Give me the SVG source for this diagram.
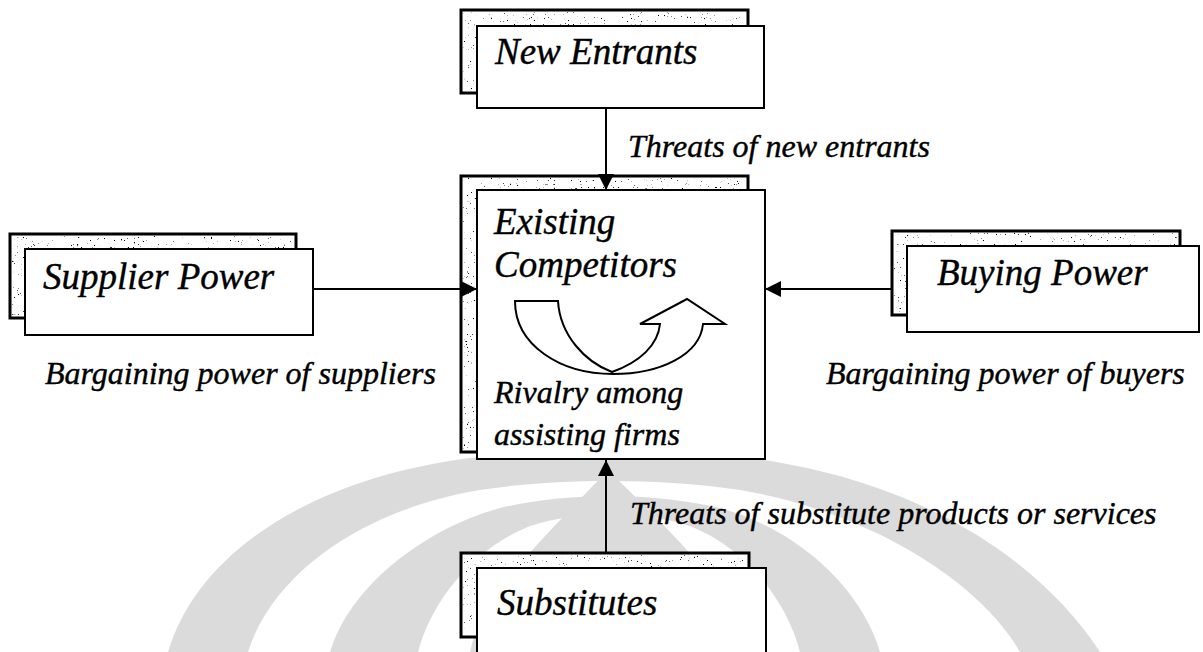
<svg xmlns="http://www.w3.org/2000/svg" width="1203" height="652" viewBox="0 0 1203 652">
  <defs>
    <style>
      .lbl { font-family: "Liberation Serif", "Times New Roman", serif; font-style: italic; fill: #000; stroke: #000; stroke-width: 0.4; }
      .title { font-size: 37px; }
      .note { font-size: 32px; }
      .front { fill: #fff; stroke: #000; stroke-width: 2; }
      .back { fill: #fff; stroke: #000; stroke-width: 3; }
      .grain { fill: #222; filter: url(#speckle); }
      .wire { stroke: #000; stroke-width: 2; fill: none; }
      .mark { fill: #dbdbdb; }
      .gap { fill: #fff; }
    </style>
    <!-- scattered dark specks used inside the shadow cards -->
    <filter id="speckle" x="0" y="0" width="100%" height="100%" color-interpolation-filters="sRGB">
      <feTurbulence type="fractalNoise" baseFrequency="0.7" numOctaves="2" seed="7" result="noise"/>
      <feColorMatrix in="noise" type="matrix" values="0 0 0 0 0  0 0 0 0 0  0 0 0 0 0  14 0 0 0 -9.9" result="dots"/>
      <feComposite in="dots" in2="SourceGraphic" operator="in"/>
    </filter>
    <marker id="head" viewBox="0 0 16 16" refX="16" refY="8" markerWidth="16" markerHeight="16" markerUnits="userSpaceOnUse" orient="auto">
      <path d="M0,0 L16,8 L0,16 Z" fill="#000"/>
    </marker>
  </defs>

  <!-- faint emblem behind the lower half -->
  <g id="emblem">
    <path class="mark" d="M168,652 C195,560 300,480 470,458 C560,448 660,448 750,458 C920,480 1040,560 1100,652 Z"/>
    <path class="gap" d="M248,652 C272,575 360,510 480,490 C560,478 660,478 740,490 C860,510 975,575 1020,652 Z"/>
    <path class="mark" d="M330,652 C348,590 420,530 500,508 C570,492 650,492 720,508 C800,530 862,590 880,652 Z"/>
    <path class="gap" d="M418,652 C430,605 470,550 530,526 C580,510 640,510 690,526 C750,550 788,605 800,652 Z"/>
    <path class="mark" d="M470,652 C482,592 560,522 608,470 C660,522 738,592 750,652 Z"/>
  </g>

  <g id="new-entrants">
    <rect class="back" x="461" y="10" width="287" height="83"/>
    <rect class="grain" x="463" y="12" width="283" height="79"/>
    <rect class="front" x="477" y="26" width="287" height="82"/>
    <text class="lbl title" x="495" y="64">New Entrants</text>
  </g>

  <g id="existing-competitors">
    <rect class="back" x="461" y="176" width="287" height="276"/>
    <rect class="grain" x="463" y="178" width="283" height="272"/>
    <rect class="front" x="477" y="190" width="288" height="269"/>
    <text class="lbl title" x="494" y="234">Existing</text>
    <text class="lbl title" x="494" y="277">Competitors</text>
    <path class="wire" fill="#fff" d="M515,301 L558,301 C560,335 585,362 612,372 C640,362 658,345 660,324 L640,324 L687,299 L725,324 L703,324 C700,355 660,374 613,374 C560,374 515,345 515,301 Z"/>
    <text class="lbl note" x="494" y="403">Rivalry among</text>
    <text class="lbl note" x="494" y="445">assisting firms</text>
  </g>

  <g id="supplier-power">
    <rect class="back" x="10" y="234" width="286" height="84"/>
    <rect class="grain" x="12" y="236" width="282" height="80"/>
    <rect class="front" x="25" y="249" width="288" height="86"/>
    <text class="lbl title" x="43" y="289">Supplier Power</text>
  </g>

  <g id="buying-power">
    <rect class="back" x="892" y="231" width="288" height="84"/>
    <rect class="grain" x="894" y="233" width="284" height="80"/>
    <rect class="front" x="907" y="246" width="292" height="86"/>
    <text class="lbl title" x="937" y="285">Buying Power</text>
  </g>

  <g id="substitutes">
    <rect class="back" x="461" y="553" width="288" height="84"/>
    <rect class="grain" x="463" y="555" width="284" height="80"/>
    <rect class="front" x="477" y="568" width="289" height="100"/>
    <text class="lbl title" x="497" y="615">Substitutes</text>
  </g>

  <!-- connectors -->
  <g id="connectors">
    <line class="wire" x1="606" y1="108" x2="606" y2="190" marker-end="url(#head)"/>
    <line class="wire" x1="313" y1="289" x2="477" y2="289" marker-end="url(#head)"/>
    <line class="wire" x1="892" y1="289" x2="765" y2="289" marker-end="url(#head)"/>
    <line class="wire" x1="606" y1="553" x2="606" y2="460" marker-end="url(#head)"/>
  </g>

  <!-- edge labels -->
  <g id="labels">
    <text class="lbl note" x="628" y="157">Threats of new entrants</text>
    <text class="lbl note" x="45" y="384">Bargaining power of suppliers</text>
    <text class="lbl note" x="826" y="384">Bargaining power of buyers</text>
    <text class="lbl note" x="630" y="524">Threats of substitute products or services</text>
  </g>
</svg>
